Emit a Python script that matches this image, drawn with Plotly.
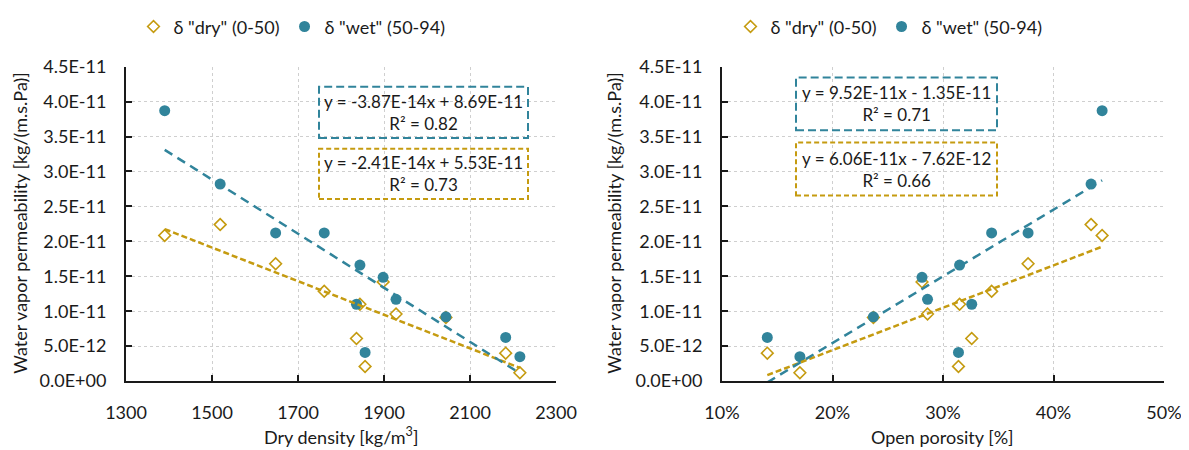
import numpy as np
import plotly.graph_objects as go

# ---------------- data ----------------
dry_density = [1390, 1519, 1648, 1761, 1844, 1898, 1928, 1836, 2044, 2183, 2216, 1856]
open_porosity = [0.444, 0.434, 0.377, 0.344, 0.315, 0.281, 0.286, 0.326, 0.237, 0.141, 0.1705, 0.314]
delta_wet = [3.87e-11, 2.82e-11, 2.12e-11, 2.12e-11, 1.66e-11, 1.485e-11, 1.17e-11, 1.10e-11,
             0.92e-11, 0.625e-11, 0.35e-11, 0.41e-11]
delta_dry = [2.085e-11, 2.24e-11, 1.68e-11, 1.285e-11, 1.10e-11, 1.42e-11, 0.96e-11, 0.61e-11,
             0.91e-11, 0.40e-11, 0.12e-11, 0.21e-11]

series_names = ['δ "dry" (0-50)', 'δ "wet" (50-94)']
y_tick_vals = [0, 5e-12, 1e-11, 1.5e-11, 2e-11, 2.5e-11, 3e-11, 3.5e-11, 4e-11, 4.5e-11]
y_tick_text = ["0.0E+00", "5.0E-12", "1.0E-11", "1.5E-11", "2.0E-11", "2.5E-11",
               "3.0E-11", "3.5E-11", "4.0E-11", "4.5E-11"]

eq_left_wet = ["y = -3.87E-14x + 8.69E-11", "R² = 0.82"]
eq_left_dry = ["y = -2.41E-14x + 5.53E-11", "R² = 0.73"]
eq_right_wet = ["y = 9.52E-11x - 1.35E-11", "R² = 0.71"]
eq_right_dry = ["y = 6.06E-11x - 7.62E-12", "R² = 0.66"]

# ---------------- style ----------------
OFF = 8                      # default page body margin
W, H = 1189 - OFF, 450 - OFF
TEAL = "#31849B"
GOLD = "#C59B10"
TXT = "#1a1a1a"
FONT = "Lato"
FS = 18


def px_x(p):
    return (p - OFF) / W


def px_y(p):
    return 1 - (p - OFF) / H


fig = go.Figure()


def add_panel(xdata, xaxis, yaxis, legend):
    fig.add_trace(go.Scatter(
        x=xdata, y=delta_dry, mode="markers", name=series_names[0],
        marker=dict(symbol="diamond-open", size=9, color=GOLD, line=dict(width=1.6, color=GOLD)),
        xaxis=xaxis, yaxis=yaxis, legend=legend))
    fig.add_trace(go.Scatter(
        x=xdata, y=delta_wet, mode="markers", name=series_names[1],
        marker=dict(symbol="circle", size=11, color=TEAL),
        xaxis=xaxis, yaxis=yaxis, legend=legend))
    # linear trendlines (least squares fit of the data)
    xs = np.array([min(xdata), max(xdata)])
    for ys, col, dash in ((delta_dry, GOLD, "6px,3px"), (delta_wet, TEAL, "9px,6px")):
        m, b = np.polyfit(np.array(xdata), np.array(ys), 1)
        fig.add_trace(go.Scatter(
            x=xs, y=m * xs + b, mode="lines", showlegend=False, hoverinfo="skip",
            line=dict(color=col, width=2.5, dash=dash),
            xaxis=xaxis, yaxis=yaxis))


add_panel(dry_density, "x", "y", "legend")
add_panel(open_porosity, "x2", "y2", "legend2")

ydom = [px_y(380), px_y(60.5)]
axis_common = dict(
    showline=True, linecolor="#1a1a1a", linewidth=2,
    ticks="inside", ticklen=6, tickwidth=2, tickcolor="#1a1a1a",
    showgrid=True, gridcolor="#CFCFCF", griddash="dot", gridwidth=1,
    zeroline=False, tickfont=dict(family=FONT, size=FS, color=TXT),
    mirror=False, automargin=False,
)

fig.update_layout(
    width=W, height=H,
    margin=dict(l=0, r=0, t=0, b=0),
    paper_bgcolor="white", plot_bgcolor="white",
    font=dict(family=FONT, size=FS, color=TXT),
    xaxis=dict(domain=[px_x(126), px_x(556)], range=[1300, 2300], dtick=200, tick0=1300,
               anchor="y", ticklabelstandoff=14, **axis_common),
    yaxis=dict(domain=ydom, range=[0, 4.5e-11], tickvals=y_tick_vals, ticktext=y_tick_text,
               anchor="x", ticklabelstandoff=14, **axis_common),
    xaxis2=dict(domain=[px_x(722), px_x(1164)], range=[0.1, 0.5], dtick=0.1, tick0=0.1,
                tickformat=".0%", anchor="y2", ticklabelstandoff=14, **axis_common),
    yaxis2=dict(domain=ydom, range=[0, 4.5e-11], tickvals=y_tick_vals, ticktext=y_tick_text,
                anchor="x2", ticklabelstandoff=14, **axis_common),
    legend=dict(orientation="h", x=px_x(292), y=px_y(20), xanchor="center", yanchor="middle",
                font=dict(family=FONT, size=FS, color=TXT), itemwidth=30,
                bgcolor="rgba(0,0,0,0)"),
    legend2=dict(orientation="h", x=px_x(889), y=px_y(20), xanchor="center", yanchor="middle",
                 font=dict(family=FONT, size=FS, color=TXT), itemwidth=30,
                 bgcolor="rgba(0,0,0,0)"),
)

# equation boxes
boxes = [
    (319, 528, 81, 133, TEAL, "8px,4px", eq_left_wet),
    (319, 528, 144, 195, GOLD, "5px,3px", eq_left_dry),
    (796, 997, 71.5, 125, TEAL, "8px,4px", eq_right_wet),
    (796, 997, 137.5, 191.5, GOLD, "5px,3px", eq_right_dry),
]
for x0, x1, y0, y1, col, dash, lines in boxes:
    fig.add_shape(type="rect", xref="paper", yref="paper",
                  x0=px_x(x0), x1=px_x(x1), y0=px_y(y1), y1=px_y(y0),
                  line=dict(color=col, width=2, dash=dash), fillcolor="rgba(0,0,0,0)",
                  layer="above")
    fig.add_annotation(xref="paper", yref="paper", x=px_x((x0 + x1) / 2), y=px_y((y0 + y1) / 2),
                       xanchor="center", yanchor="middle",
                       text="<br>".join(lines), showarrow=False, align="center",
                       font=dict(family=FONT, size=17, color=TXT))

# axis titles
for xc in (20, 614):
    fig.add_annotation(xref="paper", yref="paper", x=px_x(xc), y=px_y(220), textangle=-90,
                       xanchor="center", yanchor="middle",
                       text="Water vapor permeability [kg/(m.s.Pa)]", showarrow=False,
                       font=dict(family=FONT, size=FS, color=TXT))
fig.add_annotation(xref="paper", yref="paper", x=px_x(341), y=px_y(436),
                   xanchor="center", yanchor="middle",
                   text="Dry density [kg/m<sup>3</sup>]", showarrow=False,
                   font=dict(family=FONT, size=FS, color=TXT))
fig.add_annotation(xref="paper", yref="paper", x=px_x(942), y=px_y(437),
                   xanchor="center", yanchor="middle",
                   text="Open porosity [%]", showarrow=False,
                   font=dict(family=FONT, size=FS, color=TXT))

fig.write_html("out.html")
